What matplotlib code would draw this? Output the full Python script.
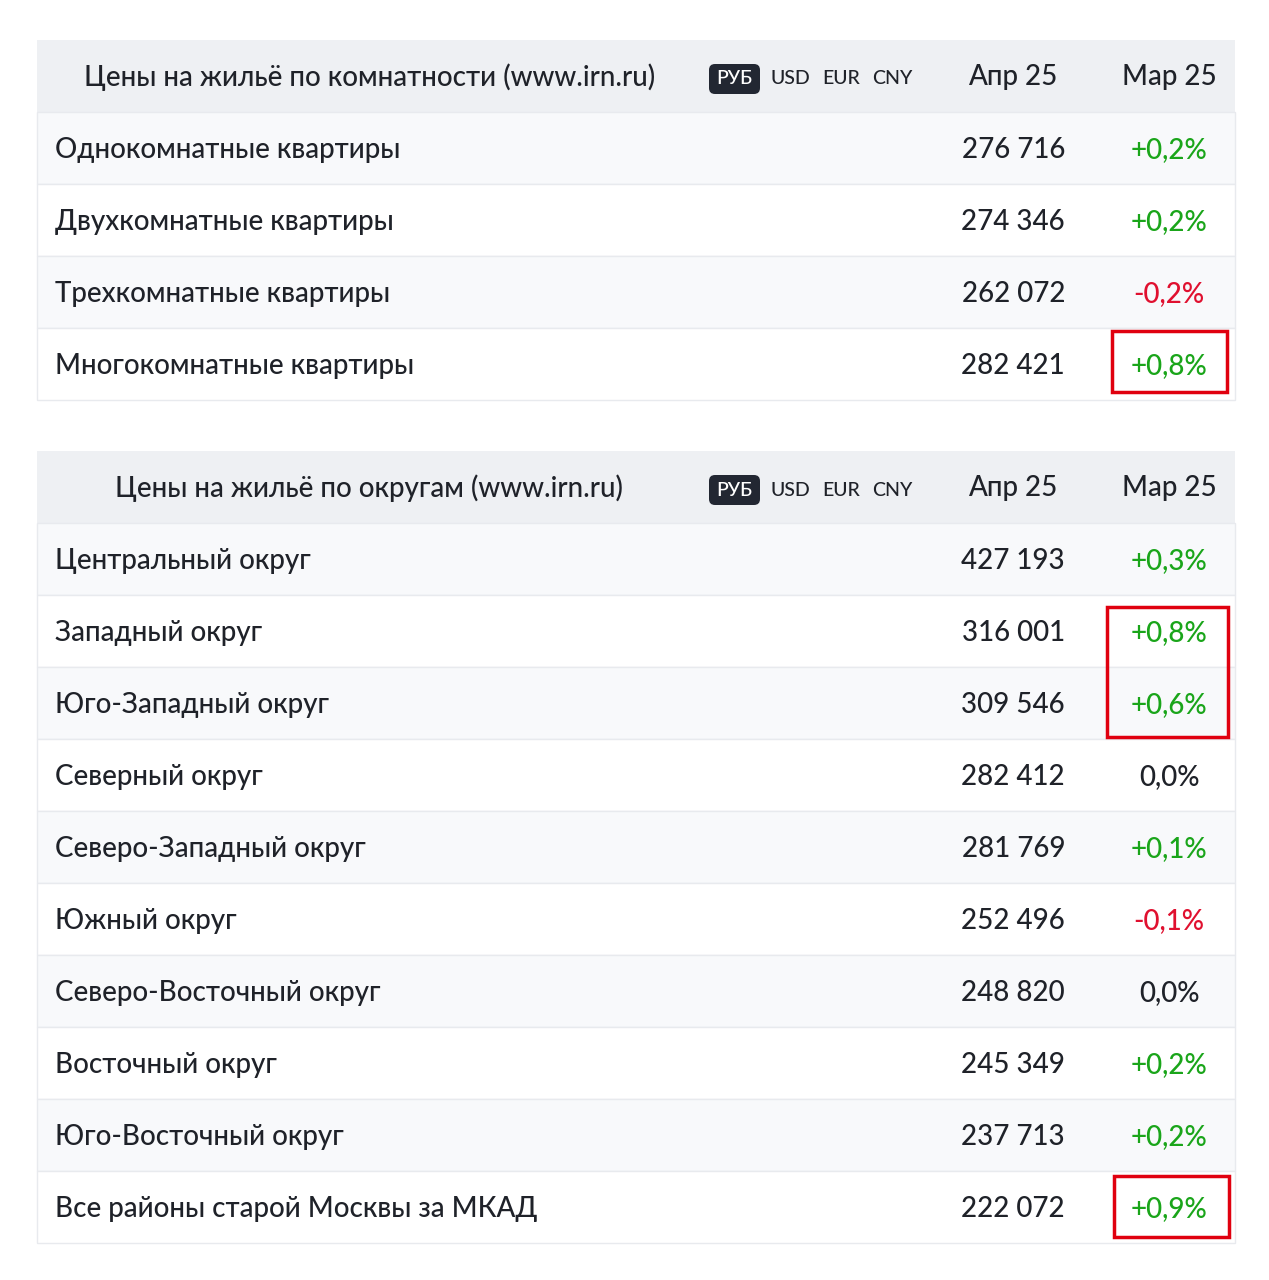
import matplotlib
matplotlib.use("Agg")
import matplotlib.pyplot as plt
from matplotlib.patches import Rectangle, FancyBboxPatch

rooms_title = "Цены на жильё по комнатности (www.irn.ru)"
rooms = ["Однокомнатные квартиры", "Двухкомнатные квартиры", "Трехкомнатные квартиры", "Многокомнатные квартиры"]
rooms_price = ["276 716", "274 346", "262 072", "282 421"]
rooms_chg = [0.2, 0.2, -0.2, 0.8]

okr_title = "Цены на жильё по округам (www.irn.ru)"
okrugs = ["Центральный округ", "Западный округ", "Юго-Западный округ", "Северный округ",
          "Северо-Западный округ", "Южный округ", "Северо-Восточный округ", "Восточный округ",
          "Юго-Восточный округ", "Все районы старой Москвы за МКАД"]
okr_price = ["427 193", "316 001", "309 546", "282 412", "281 769", "252 496", "248 820",
             "245 349", "237 713", "222 072"]
okr_chg = [0.3, 0.8, 0.6, 0.0, 0.1, -0.1, 0.0, 0.2, 0.2, 0.9]

currencies = ["РУБ", "USD", "EUR", "CNY"]
col_headers = ["Апр 25", "Мар 25"]

W, H = 1269, 1280
fig = plt.figure(figsize=(W/100, H/100), dpi=100)
ax = fig.add_axes([0, 0, 1, 1])
ax.set_xlim(0, W); ax.set_ylim(H, 0); ax.axis("off")
FONT = "Lato"
DARK = "#1f2229"
FW = "medium"

def fmt(v):
    s = f"{abs(v):.1f}".replace(".", ",") + "%"
    if v > 0: return "+" + s, "#1aa51a"
    if v < 0: return "-" + s, "#e0102f"
    return s, DARK

def table(y0, title, tcx, labels, prices, chg):
    ax.add_patch(Rectangle((37, y0), 1198, 72, color="#eef0f3", lw=0))
    ax.text(tcx, y0+37, title, fontsize=20, family=FONT, weight=FW, color=DARK, ha="center", va="center")
    ax.add_patch(FancyBboxPatch((709, y0+24), 51, 30, boxstyle="round,pad=0,rounding_size=6",
                                color="#222732", lw=0))
    xs = [734, 790, 841, 892]
    for i, c in enumerate(currencies):
        ax.text(xs[i], y0+39, c, fontsize=14, family=FONT, weight=FW, ha="center", va="center",
                color="white" if i == 0 else DARK)
    ax.text(1013, y0+37, col_headers[0], fontsize=20, family=FONT, weight=FW, color=DARK, ha="center", va="center")
    ax.text(1169, y0+37, col_headers[1], fontsize=20, family=FONT, weight=FW, color=DARK, ha="center", va="center")
    for i, (l, p, c) in enumerate(zip(labels, prices, chg)):
        y = y0 + 72 + 72*i
        ax.add_patch(Rectangle((37, y), 1198, 72, facecolor="#f8f9fb" if i % 2 == 0 else "white",
                               edgecolor="#e8eaee", lw=1))
        ax.text(55, y+38, l, fontsize=20, family=FONT, weight=FW, color=DARK, va="center")
        ax.text(1065, y+38, p, fontsize=20, family=FONT, weight=FW, color=DARK, va="center", ha="right")
        s, col = fmt(c)
        ax.text(1169, y+38, s, fontsize=20, family=FONT, weight=FW, color=col, va="center", ha="center")

table(40, rooms_title, 370, rooms, rooms_price, rooms_chg)
table(451, okr_title, 369, okrugs, okr_price, okr_chg)

for (x, y, w, h) in [(1112, 331, 115, 61), (1107, 607, 121, 130), (1114, 1176, 115, 61)]:
    ax.add_patch(Rectangle((x, y), w, h, fill=False, edgecolor="#e0000f", lw=2.5))

fig.savefig("out.png", dpi=100)
